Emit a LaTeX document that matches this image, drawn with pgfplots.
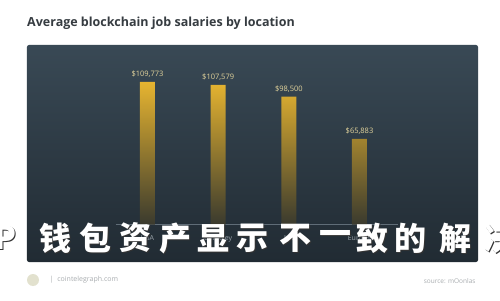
\documentclass[border=0pt]{standalone}
\usepackage{fontspec}
\setmainfont{Open Sans}
\newfontfamily\cjk{Noto Sans CJK SC}
\usepackage{pgfplots}
\pgfplotsset{compat=1.18}
\definecolor{titlegray}{HTML}{363C41}
\definecolor{paneltop}{HTML}{394955}
\definecolor{panelbot}{HTML}{212B33}
\definecolor{bartop}{HTML}{E6B430}
\definecolor{barbot}{HTML}{3A3A2E}
\definecolor{vallab}{HTML}{E3D49C}
\definecolor{ticklab}{HTML}{9AA3AA}
\definecolor{footgray}{HTML}{A9ADB0}
\begin{document}
\begin{tikzpicture}[x=1pt,y=1pt]
\useasboundingbox (0,0) rectangle (500,300);
\fill[white] (0,0) rectangle (500,300);
\node[anchor=base west, text=titlegray, inner sep=0pt] at (27,273) {\bfseries\fontsize{12.5}{15}\selectfont Average blockchain job salaries by location};
\begin{axis}[
  at={(27pt,38pt)}, anchor=south west,
  scale only axis, width=451pt, height=217pt,
  xmin=-1.705, xmax=4.677, ymin=-28875, ymax=138215,
  axis line style={draw=none},
  axis background/.style={top color=paneltop, bottom color=panelbot, rounded corners=2pt},
  xtick={0,1,2,3}, xticklabels={USA,Berkeley,UK,Europe},
  ytick=\empty, major tick length=0pt,
  xticklabel style={font=\fontsize{7}{8}\selectfont, text=ticklab, yshift=30pt},
  ybar, bar width=15pt, bar shift=0pt,
  nodes near coords, point meta=explicit symbolic,
  nodes near coords style={font=\fontsize{7.5}{8}\selectfont, text=vallab, yshift=1pt},
  clip=false,
]
\draw[ticklab!40!paneltop, line width=0.6pt] (axis cs:-0.45,0) -- (axis cs:3.55,0);
\addplot[draw=none, top color=bartop, bottom color=barbot] coordinates {
  (0,109773) [\$109,773]
  (1,107579) [\$107,579]
  (2,98500)  [\$98,500]
  (3,65883)  [\$65,883]
};
\end{axis}
% overlaid text
\foreach \ch/\xx in {P/5,钱/55,包/95,资/135,产/175,显/213,示/252,不/295,一/335,致/372,的/410,解/455,决/500}{
  \node[text=black!80, font=\cjk\bfseries\fontsize{32}{32}\selectfont] at (\xx+1,61) {\ch};
  \node[text=white, font=\cjk\bfseries\fontsize{32}{32}\selectfont] at (\xx,62) {\ch};
}
% footer
\fill[yellow!25!gray!35] (33,20) circle (6);
\node[text=footgray, anchor=west, font=\fontsize{7}{8}\selectfont] at (46,20) {|\hspace{4pt}cointelegraph.com};
\node[text=footgray, anchor=east, font=\fontsize{6.5}{8}\selectfont] at (479,19) {source: mOonlas};
\end{tikzpicture}
\end{document}
